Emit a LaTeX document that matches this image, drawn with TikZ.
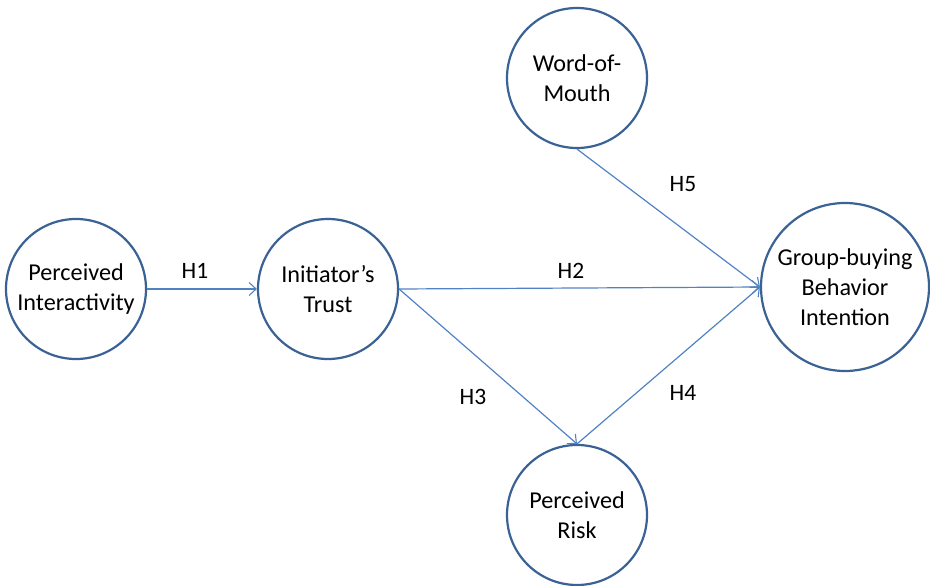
\documentclass[tikz,border=0pt]{standalone}
\usepackage{fontspec}
\setmainfont{Carlito}
\usetikzlibrary{arrows.meta}
\definecolor{ringblue}{HTML}{3A6294}
\definecolor{arrowblue}{HTML}{5182C4}

\begin{document}
\begin{tikzpicture}
            [x=1pt, y=-1pt,
             construct/.style={draw=ringblue, line width=2.2pt, shape=circle, fill=white, inner sep=0, minimum size=140pt, align=center, font=\fontsize{24.2}{30}\selectfont},
             hyp/.style={font=\fontsize{23.5}{28}\selectfont, inner sep=0},
             path/.style={draw=arrowblue, line width=1.2pt, -{Straight Barb[length=7pt, width=13pt, line width=1.1pt]}}]

            \useasboundingbox (0, 0) rectangle (930, 586);

            \node[construct] (pi) at (76, 289) {Perceived\\Interactivity};
            \node[construct] (it) at (328, 289) {Initiator’s\\Trust};
            \node[construct] (wom) at (577, 78) {Word-of-\\Mouth};
            \node[construct, minimum size=168pt] (gbi) at (845, 287) {Group-buying\\Behavior\\Intention};
            \node[construct] (pr) at (577, 515) {Perceived\\Risk};

            \node[hyp] (h1) at (195, 271) {H1};
            \node[hyp] (h2) at (571, 271) {H2};
            \node[hyp] (h3) at (473, 397) {H3};
            \node[hyp] (h4) at (683, 393) {H4};
            \node[hyp] (h5) at (683, 184) {H5};

            \draw[path] (pi.east) -- (it.west);
            \draw[path] (it.east) -- (gbi.west);
            \draw[path] (it.east) -- (pr.north);
            \draw[path] (pr.north) -- (gbi.west);
            \draw[path] (wom.south) -- (gbi.west);
          \end{tikzpicture}
\end{document}
